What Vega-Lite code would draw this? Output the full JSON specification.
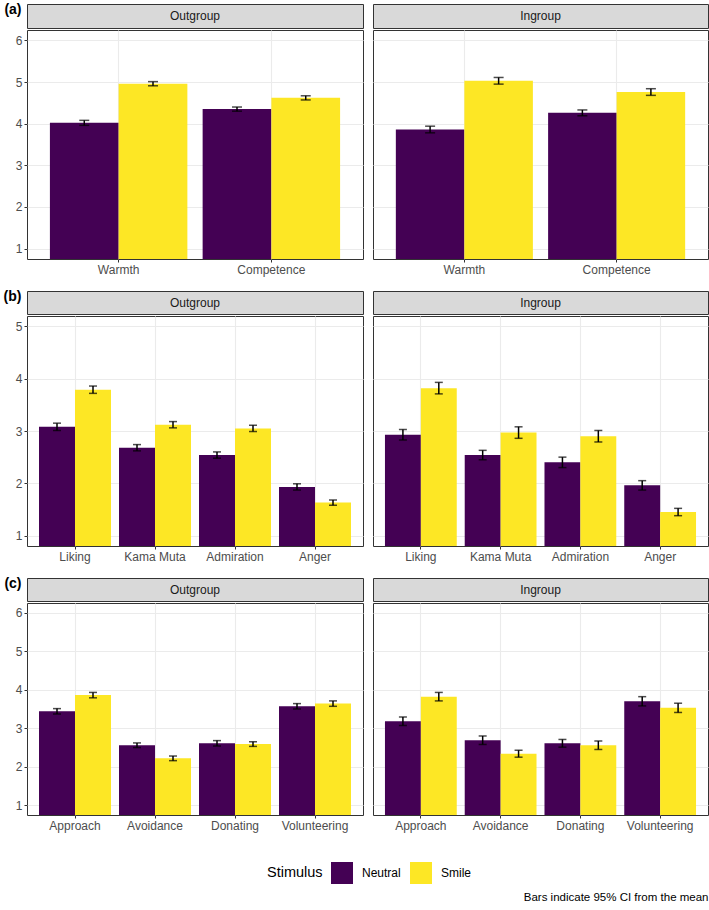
{
"$schema": "https://vega.github.io/schema/vega-lite/v6.json",
"padding": {"left": 0, "top": 1, "right": 4, "bottom": 4},
"background": "white",
"title": {"text": "Bars indicate 95% CI from the mean", "orient": "bottom", "anchor": "end", "fontSize": 11.5, "fontWeight": "normal", "color": "black", "offset": 8},
"datasets": {
"d": [
{"panel":"a","group":"Outgroup","measure":"Warmth","stimulus":"Neutral","mean":4.02,"lo":3.96,"hi":4.08},
{"panel":"a","group":"Outgroup","measure":"Warmth","stimulus":"Smile","mean":4.96,"lo":4.91,"hi":5.01},
{"panel":"a","group":"Outgroup","measure":"Competence","stimulus":"Neutral","mean":4.35,"lo":4.30,"hi":4.40},
{"panel":"a","group":"Outgroup","measure":"Competence","stimulus":"Smile","mean":4.62,"lo":4.57,"hi":4.67},
{"panel":"a","group":"Ingroup","measure":"Warmth","stimulus":"Neutral","mean":3.86,"lo":3.78,"hi":3.94},
{"panel":"a","group":"Ingroup","measure":"Warmth","stimulus":"Smile","mean":5.03,"lo":4.95,"hi":5.11},
{"panel":"a","group":"Ingroup","measure":"Competence","stimulus":"Neutral","mean":4.26,"lo":4.19,"hi":4.33},
{"panel":"a","group":"Ingroup","measure":"Competence","stimulus":"Smile","mean":4.76,"lo":4.68,"hi":4.84},
{"panel":"b","group":"Outgroup","measure":"Liking","stimulus":"Neutral","mean":3.08,"lo":3.01,"hi":3.15},
{"panel":"b","group":"Outgroup","measure":"Liking","stimulus":"Smile","mean":3.79,"lo":3.72,"hi":3.86},
{"panel":"b","group":"Outgroup","measure":"Kama Muta","stimulus":"Neutral","mean":2.68,"lo":2.62,"hi":2.74},
{"panel":"b","group":"Outgroup","measure":"Kama Muta","stimulus":"Smile","mean":3.12,"lo":3.06,"hi":3.18},
{"panel":"b","group":"Outgroup","measure":"Admiration","stimulus":"Neutral","mean":2.54,"lo":2.48,"hi":2.60},
{"panel":"b","group":"Outgroup","measure":"Admiration","stimulus":"Smile","mean":3.05,"lo":2.99,"hi":3.11},
{"panel":"b","group":"Outgroup","measure":"Anger","stimulus":"Neutral","mean":1.93,"lo":1.87,"hi":1.99},
{"panel":"b","group":"Outgroup","measure":"Anger","stimulus":"Smile","mean":1.63,"lo":1.58,"hi":1.68},
{"panel":"b","group":"Ingroup","measure":"Liking","stimulus":"Neutral","mean":2.93,"lo":2.83,"hi":3.03},
{"panel":"b","group":"Ingroup","measure":"Liking","stimulus":"Smile","mean":3.82,"lo":3.71,"hi":3.93},
{"panel":"b","group":"Ingroup","measure":"Kama Muta","stimulus":"Neutral","mean":2.54,"lo":2.45,"hi":2.63},
{"panel":"b","group":"Ingroup","measure":"Kama Muta","stimulus":"Smile","mean":2.97,"lo":2.86,"hi":3.08},
{"panel":"b","group":"Ingroup","measure":"Admiration","stimulus":"Neutral","mean":2.40,"lo":2.30,"hi":2.50},
{"panel":"b","group":"Ingroup","measure":"Admiration","stimulus":"Smile","mean":2.90,"lo":2.79,"hi":3.01},
{"panel":"b","group":"Ingroup","measure":"Anger","stimulus":"Neutral","mean":1.96,"lo":1.87,"hi":2.05},
{"panel":"b","group":"Ingroup","measure":"Anger","stimulus":"Smile","mean":1.45,"lo":1.38,"hi":1.52},
{"panel":"c","group":"Outgroup","measure":"Approach","stimulus":"Neutral","mean":3.44,"lo":3.37,"hi":3.51},
{"panel":"c","group":"Outgroup","measure":"Approach","stimulus":"Smile","mean":3.86,"lo":3.79,"hi":3.93},
{"panel":"c","group":"Outgroup","measure":"Avoidance","stimulus":"Neutral","mean":2.56,"lo":2.50,"hi":2.62},
{"panel":"c","group":"Outgroup","measure":"Avoidance","stimulus":"Smile","mean":2.22,"lo":2.16,"hi":2.28},
{"panel":"c","group":"Outgroup","measure":"Donating","stimulus":"Neutral","mean":2.61,"lo":2.54,"hi":2.68},
{"panel":"c","group":"Outgroup","measure":"Donating","stimulus":"Smile","mean":2.59,"lo":2.53,"hi":2.65},
{"panel":"c","group":"Outgroup","measure":"Volunteering","stimulus":"Neutral","mean":3.57,"lo":3.50,"hi":3.64},
{"panel":"c","group":"Outgroup","measure":"Volunteering","stimulus":"Smile","mean":3.64,"lo":3.57,"hi":3.71},
{"panel":"c","group":"Ingroup","measure":"Approach","stimulus":"Neutral","mean":3.18,"lo":3.07,"hi":3.29},
{"panel":"c","group":"Ingroup","measure":"Approach","stimulus":"Smile","mean":3.82,"lo":3.71,"hi":3.93},
{"panel":"c","group":"Ingroup","measure":"Avoidance","stimulus":"Neutral","mean":2.69,"lo":2.58,"hi":2.80},
{"panel":"c","group":"Ingroup","measure":"Avoidance","stimulus":"Smile","mean":2.34,"lo":2.25,"hi":2.43},
{"panel":"c","group":"Ingroup","measure":"Donating","stimulus":"Neutral","mean":2.61,"lo":2.51,"hi":2.71},
{"panel":"c","group":"Ingroup","measure":"Donating","stimulus":"Smile","mean":2.56,"lo":2.45,"hi":2.67},
{"panel":"c","group":"Ingroup","measure":"Volunteering","stimulus":"Neutral","mean":3.70,"lo":3.58,"hi":3.82},
{"panel":"c","group":"Ingroup","measure":"Volunteering","stimulus":"Smile","mean":3.53,"lo":3.41,"hi":3.65}
],
"s": [
{"panel":"a","group":"Outgroup","tag":"(a)"},
{"panel":"a","group":"Ingroup","tag":"(a)"},
{"panel":"b","group":"Outgroup","tag":"(b)"},
{"panel":"b","group":"Ingroup","tag":"(b)"},
{"panel":"c","group":"Outgroup","tag":"(c)"},
{"panel":"c","group":"Ingroup","tag":"(c)"}
]
},
"vconcat": [
{"hconcat": [
 {"vconcat": [
  {"width": 336, "height": 24, "view": {"fill": "#D9D9D9", "stroke": "#333333"},
   "data": {"name": "s"}, "transform": [{"filter": "datum.panel === 'a' && datum.group === 'Outgroup'"}],
   "mark": {"type": "text", "fontSize": 12, "color": "#1A1A1A"},
   "encoding": {"x": {"field": "group", "type": "nominal", "axis": null},
     "y": {"field": "tag", "type": "nominal", "axis": {"title": null, "ticks": false, "domain": false, "grid": false, "labelFontSize": 14, "labelFontWeight": "bold", "labelColor": "black", "labelPadding": 6, "labelOffset": -7, "minExtent": 26, "maxExtent": 26}},
     "text": {"field": "group"}}},
  {"width": 336, "height": 229, "view": {"stroke": "#333333"},
   "data": {"name": "d"}, "transform": [{"filter": "datum.panel === 'a' && datum.group === 'Outgroup'"}],
   "encoding": {"x": {"field": "measure", "type": "nominal", "sort": ["Warmth","Competence","Liking","Kama Muta","Admiration","Anger","Approach","Avoidance","Donating","Volunteering"], "scale": {"paddingInner": 0.1, "paddingOuter": 0.15}, "axis": {"title": null, "grid": true}},
     "xOffset": {"field": "stimulus", "type": "nominal", "sort": ["Neutral","Smile"], "scale": {"paddingInner": 0, "paddingOuter": 0}}},
   "layer": [
    {"mark": {"type": "bar", "clip": true},
     "encoding": {"y": {"field": "mean", "type": "quantitative", "scale": {"domain": [0.75, 6.25], "nice": false, "zero": false}, "axis": {"title": null, "values": [1,1.5,2,2.5,3,3.5,4,4.5,5,5.5,6], "labelExpr": "datum.value % 1 === 0 ? datum.label : ''", "tickOpacity": {"condition": {"test": "datum.value % 1 !== 0", "value": 0}, "value": 1}, "gridWidth": {"condition": {"test": "datum.value % 1 !== 0", "value": 0.5}, "value": 1.1}, "minExtent": 26, "maxExtent": 26}},
       "color": {"field": "stimulus", "type": "nominal", "scale": {"domain": ["Neutral","Smile"], "range": ["#440154","#FDE725"]}, "legend": {"title": "Stimulus", "orient": "none", "legendX": 240, "legendY": 858, "direction": "horizontal", "titleOrient": "left", "titleFontSize": 14.5, "titleFontWeight": "normal", "titleColor": "black", "labelFontSize": 12, "labelColor": "black", "symbolType": "square", "symbolSize": 484, "symbolStrokeWidth": 0, "symbolOpacity": 1, "labelOffset": 9, "columnPadding": 9, "titlePadding": 8}}}},
    {"mark": {"type": "rule", "color": "black", "strokeWidth": 1.5}, "encoding": {"y": {"field": "lo", "type": "quantitative", "title": null}, "y2": {"field": "hi"}}},
    {"mark": {"type": "tick", "color": "black", "thickness": 1.5, "size": 10}, "encoding": {"y": {"field": "lo", "type": "quantitative", "title": null}}},
    {"mark": {"type": "tick", "color": "black", "thickness": 1.5, "size": 10}, "encoding": {"y": {"field": "hi", "type": "quantitative", "title": null}}}
   ]}
 ], "spacing": 0, "resolve": {"scale": {"x": "independent", "xOffset": "independent", "y": "independent"}}},
 {"vconcat": [
  {"width": 335, "height": 24, "view": {"fill": "#D9D9D9", "stroke": "#333333"},
   "data": {"name": "s"}, "transform": [{"filter": "datum.panel === 'a' && datum.group === 'Ingroup'"}],
   "mark": {"type": "text", "fontSize": 12, "color": "#1A1A1A"},
   "encoding": {"x": {"field": "group", "type": "nominal", "axis": null},
     "y": {"field": "tag", "type": "nominal", "axis": null},
     "text": {"field": "group"}}},
  {"width": 335, "height": 229, "view": {"stroke": "#333333"},
   "data": {"name": "d"}, "transform": [{"filter": "datum.panel === 'a' && datum.group === 'Ingroup'"}],
   "encoding": {"x": {"field": "measure", "type": "nominal", "sort": ["Warmth","Competence","Liking","Kama Muta","Admiration","Anger","Approach","Avoidance","Donating","Volunteering"], "scale": {"paddingInner": 0.1, "paddingOuter": 0.15}, "axis": {"title": null, "grid": true}},
     "xOffset": {"field": "stimulus", "type": "nominal", "sort": ["Neutral","Smile"], "scale": {"paddingInner": 0, "paddingOuter": 0}}},
   "layer": [
    {"mark": {"type": "bar", "clip": true},
     "encoding": {"y": {"field": "mean", "type": "quantitative", "scale": {"domain": [0.75, 6.25], "nice": false, "zero": false}, "axis": {"title": null, "values": [1,1.5,2,2.5,3,3.5,4,4.5,5,5.5,6], "labels": false, "ticks": false, "gridWidth": {"condition": {"test": "datum.value % 1 !== 0", "value": 0.5}, "value": 1.1}}},
       "color": {"field": "stimulus", "type": "nominal", "scale": {"domain": ["Neutral","Smile"], "range": ["#440154","#FDE725"]}, "legend": {"title": "Stimulus", "orient": "none", "legendX": 240, "legendY": 858, "direction": "horizontal", "titleOrient": "left", "titleFontSize": 14.5, "titleFontWeight": "normal", "titleColor": "black", "labelFontSize": 12, "labelColor": "black", "symbolType": "square", "symbolSize": 484, "symbolStrokeWidth": 0, "symbolOpacity": 1, "labelOffset": 9, "columnPadding": 9, "titlePadding": 8}}}},
    {"mark": {"type": "rule", "color": "black", "strokeWidth": 1.5}, "encoding": {"y": {"field": "lo", "type": "quantitative", "title": null}, "y2": {"field": "hi"}}},
    {"mark": {"type": "tick", "color": "black", "thickness": 1.5, "size": 10}, "encoding": {"y": {"field": "lo", "type": "quantitative", "title": null}}},
    {"mark": {"type": "tick", "color": "black", "thickness": 1.5, "size": 10}, "encoding": {"y": {"field": "hi", "type": "quantitative", "title": null}}}
   ]}
 ], "spacing": 0, "resolve": {"scale": {"x": "independent", "xOffset": "independent", "y": "independent"}}}
], "spacing": 8, "resolve": {"scale": {"x": "independent", "xOffset": "independent", "y": "independent"}}},
{"hconcat": [
 {"vconcat": [
  {"width": 336, "height": 23, "view": {"fill": "#D9D9D9", "stroke": "#333333"},
   "data": {"name": "s"}, "transform": [{"filter": "datum.panel === 'b' && datum.group === 'Outgroup'"}],
   "mark": {"type": "text", "fontSize": 12, "color": "#1A1A1A"},
   "encoding": {"x": {"field": "group", "type": "nominal", "axis": null},
     "y": {"field": "tag", "type": "nominal", "axis": {"title": null, "ticks": false, "domain": false, "grid": false, "labelFontSize": 14, "labelFontWeight": "bold", "labelColor": "black", "labelPadding": 6, "labelOffset": -6, "minExtent": 26, "maxExtent": 26}},
     "text": {"field": "group"}}},
  {"width": 336, "height": 230, "view": {"stroke": "#333333"},
   "data": {"name": "d"}, "transform": [{"filter": "datum.panel === 'b' && datum.group === 'Outgroup'"}],
   "encoding": {"x": {"field": "measure", "type": "nominal", "sort": ["Warmth","Competence","Liking","Kama Muta","Admiration","Anger","Approach","Avoidance","Donating","Volunteering"], "scale": {"paddingInner": 0.1, "paddingOuter": 0.15}, "axis": {"title": null, "grid": true}},
     "xOffset": {"field": "stimulus", "type": "nominal", "sort": ["Neutral","Smile"], "scale": {"paddingInner": 0, "paddingOuter": 0}}},
   "layer": [
    {"mark": {"type": "bar", "clip": true},
     "encoding": {"y": {"field": "mean", "type": "quantitative", "scale": {"domain": [0.8, 5.2], "nice": false, "zero": false}, "axis": {"title": null, "values": [1,1.5,2,2.5,3,3.5,4,4.5,5], "labelExpr": "datum.value % 1 === 0 ? datum.label : ''", "tickOpacity": {"condition": {"test": "datum.value % 1 !== 0", "value": 0}, "value": 1}, "gridWidth": {"condition": {"test": "datum.value % 1 !== 0", "value": 0.5}, "value": 1.1}, "minExtent": 26, "maxExtent": 26}},
       "color": {"field": "stimulus", "type": "nominal", "scale": {"domain": ["Neutral","Smile"], "range": ["#440154","#FDE725"]}, "legend": {"title": "Stimulus", "orient": "none", "legendX": 240, "legendY": 858, "direction": "horizontal", "titleOrient": "left", "titleFontSize": 14.5, "titleFontWeight": "normal", "titleColor": "black", "labelFontSize": 12, "labelColor": "black", "symbolType": "square", "symbolSize": 484, "symbolStrokeWidth": 0, "symbolOpacity": 1, "labelOffset": 9, "columnPadding": 9, "titlePadding": 8}}}},
    {"mark": {"type": "rule", "color": "black", "strokeWidth": 1.5}, "encoding": {"y": {"field": "lo", "type": "quantitative", "title": null}, "y2": {"field": "hi"}}},
    {"mark": {"type": "tick", "color": "black", "thickness": 1.5, "size": 8}, "encoding": {"y": {"field": "lo", "type": "quantitative", "title": null}}},
    {"mark": {"type": "tick", "color": "black", "thickness": 1.5, "size": 8}, "encoding": {"y": {"field": "hi", "type": "quantitative", "title": null}}}
   ]}
 ], "spacing": 0, "resolve": {"scale": {"x": "independent", "xOffset": "independent", "y": "independent"}}},
 {"vconcat": [
  {"width": 335, "height": 23, "view": {"fill": "#D9D9D9", "stroke": "#333333"},
   "data": {"name": "s"}, "transform": [{"filter": "datum.panel === 'b' && datum.group === 'Ingroup'"}],
   "mark": {"type": "text", "fontSize": 12, "color": "#1A1A1A"},
   "encoding": {"x": {"field": "group", "type": "nominal", "axis": null},
     "y": {"field": "tag", "type": "nominal", "axis": null},
     "text": {"field": "group"}}},
  {"width": 335, "height": 230, "view": {"stroke": "#333333"},
   "data": {"name": "d"}, "transform": [{"filter": "datum.panel === 'b' && datum.group === 'Ingroup'"}],
   "encoding": {"x": {"field": "measure", "type": "nominal", "sort": ["Warmth","Competence","Liking","Kama Muta","Admiration","Anger","Approach","Avoidance","Donating","Volunteering"], "scale": {"paddingInner": 0.1, "paddingOuter": 0.15}, "axis": {"title": null, "grid": true}},
     "xOffset": {"field": "stimulus", "type": "nominal", "sort": ["Neutral","Smile"], "scale": {"paddingInner": 0, "paddingOuter": 0}}},
   "layer": [
    {"mark": {"type": "bar", "clip": true},
     "encoding": {"y": {"field": "mean", "type": "quantitative", "scale": {"domain": [0.8, 5.2], "nice": false, "zero": false}, "axis": {"title": null, "values": [1,1.5,2,2.5,3,3.5,4,4.5,5], "labels": false, "ticks": false, "gridWidth": {"condition": {"test": "datum.value % 1 !== 0", "value": 0.5}, "value": 1.1}}},
       "color": {"field": "stimulus", "type": "nominal", "scale": {"domain": ["Neutral","Smile"], "range": ["#440154","#FDE725"]}, "legend": {"title": "Stimulus", "orient": "none", "legendX": 240, "legendY": 858, "direction": "horizontal", "titleOrient": "left", "titleFontSize": 14.5, "titleFontWeight": "normal", "titleColor": "black", "labelFontSize": 12, "labelColor": "black", "symbolType": "square", "symbolSize": 484, "symbolStrokeWidth": 0, "symbolOpacity": 1, "labelOffset": 9, "columnPadding": 9, "titlePadding": 8}}}},
    {"mark": {"type": "rule", "color": "black", "strokeWidth": 1.5}, "encoding": {"y": {"field": "lo", "type": "quantitative", "title": null}, "y2": {"field": "hi"}}},
    {"mark": {"type": "tick", "color": "black", "thickness": 1.5, "size": 8}, "encoding": {"y": {"field": "lo", "type": "quantitative", "title": null}}},
    {"mark": {"type": "tick", "color": "black", "thickness": 1.5, "size": 8}, "encoding": {"y": {"field": "hi", "type": "quantitative", "title": null}}}
   ]}
 ], "spacing": 0, "resolve": {"scale": {"x": "independent", "xOffset": "independent", "y": "independent"}}}
], "spacing": 8, "resolve": {"scale": {"x": "independent", "xOffset": "independent", "y": "independent"}}},
{"hconcat": [
 {"vconcat": [
  {"width": 336, "height": 23, "view": {"fill": "#D9D9D9", "stroke": "#333333"},
   "data": {"name": "s"}, "transform": [{"filter": "datum.panel === 'c' && datum.group === 'Outgroup'"}],
   "mark": {"type": "text", "fontSize": 12, "color": "#1A1A1A"},
   "encoding": {"x": {"field": "group", "type": "nominal", "axis": null},
     "y": {"field": "tag", "type": "nominal", "axis": {"title": null, "ticks": false, "domain": false, "grid": false, "labelFontSize": 14, "labelFontWeight": "bold", "labelColor": "black", "labelPadding": 6, "labelOffset": -6, "minExtent": 26, "maxExtent": 26}},
     "text": {"field": "group"}}},
  {"width": 336, "height": 212, "view": {"stroke": "#333333"},
   "data": {"name": "d"}, "transform": [{"filter": "datum.panel === 'c' && datum.group === 'Outgroup'"}],
   "encoding": {"x": {"field": "measure", "type": "nominal", "sort": ["Warmth","Competence","Liking","Kama Muta","Admiration","Anger","Approach","Avoidance","Donating","Volunteering"], "scale": {"paddingInner": 0.1, "paddingOuter": 0.15}, "axis": {"title": null, "grid": true}},
     "xOffset": {"field": "stimulus", "type": "nominal", "sort": ["Neutral","Smile"], "scale": {"paddingInner": 0, "paddingOuter": 0}}},
   "layer": [
    {"mark": {"type": "bar", "clip": true},
     "encoding": {"y": {"field": "mean", "type": "quantitative", "scale": {"domain": [0.75, 6.25], "nice": false, "zero": false}, "axis": {"title": null, "values": [1,1.5,2,2.5,3,3.5,4,4.5,5,5.5,6], "labelExpr": "datum.value % 1 === 0 ? datum.label : ''", "tickOpacity": {"condition": {"test": "datum.value % 1 !== 0", "value": 0}, "value": 1}, "gridWidth": {"condition": {"test": "datum.value % 1 !== 0", "value": 0.5}, "value": 1.1}, "minExtent": 26, "maxExtent": 26}},
       "color": {"field": "stimulus", "type": "nominal", "scale": {"domain": ["Neutral","Smile"], "range": ["#440154","#FDE725"]}, "legend": {"title": "Stimulus", "orient": "none", "legendX": 240, "legendY": 858, "direction": "horizontal", "titleOrient": "left", "titleFontSize": 14.5, "titleFontWeight": "normal", "titleColor": "black", "labelFontSize": 12, "labelColor": "black", "symbolType": "square", "symbolSize": 484, "symbolStrokeWidth": 0, "symbolOpacity": 1, "labelOffset": 9, "columnPadding": 9, "titlePadding": 8}}}},
    {"mark": {"type": "rule", "color": "black", "strokeWidth": 1.5}, "encoding": {"y": {"field": "lo", "type": "quantitative", "title": null}, "y2": {"field": "hi"}}},
    {"mark": {"type": "tick", "color": "black", "thickness": 1.5, "size": 8}, "encoding": {"y": {"field": "lo", "type": "quantitative", "title": null}}},
    {"mark": {"type": "tick", "color": "black", "thickness": 1.5, "size": 8}, "encoding": {"y": {"field": "hi", "type": "quantitative", "title": null}}}
   ]}
 ], "spacing": 0, "resolve": {"scale": {"x": "independent", "xOffset": "independent", "y": "independent"}}},
 {"vconcat": [
  {"width": 335, "height": 23, "view": {"fill": "#D9D9D9", "stroke": "#333333"},
   "data": {"name": "s"}, "transform": [{"filter": "datum.panel === 'c' && datum.group === 'Ingroup'"}],
   "mark": {"type": "text", "fontSize": 12, "color": "#1A1A1A"},
   "encoding": {"x": {"field": "group", "type": "nominal", "axis": null},
     "y": {"field": "tag", "type": "nominal", "axis": null},
     "text": {"field": "group"}}},
  {"width": 335, "height": 212, "view": {"stroke": "#333333"},
   "data": {"name": "d"}, "transform": [{"filter": "datum.panel === 'c' && datum.group === 'Ingroup'"}],
   "encoding": {"x": {"field": "measure", "type": "nominal", "sort": ["Warmth","Competence","Liking","Kama Muta","Admiration","Anger","Approach","Avoidance","Donating","Volunteering"], "scale": {"paddingInner": 0.1, "paddingOuter": 0.15}, "axis": {"title": null, "grid": true}},
     "xOffset": {"field": "stimulus", "type": "nominal", "sort": ["Neutral","Smile"], "scale": {"paddingInner": 0, "paddingOuter": 0}}},
   "layer": [
    {"mark": {"type": "bar", "clip": true},
     "encoding": {"y": {"field": "mean", "type": "quantitative", "scale": {"domain": [0.75, 6.25], "nice": false, "zero": false}, "axis": {"title": null, "values": [1,1.5,2,2.5,3,3.5,4,4.5,5,5.5,6], "labels": false, "ticks": false, "gridWidth": {"condition": {"test": "datum.value % 1 !== 0", "value": 0.5}, "value": 1.1}}},
       "color": {"field": "stimulus", "type": "nominal", "scale": {"domain": ["Neutral","Smile"], "range": ["#440154","#FDE725"]}, "legend": {"title": "Stimulus", "orient": "none", "legendX": 240, "legendY": 858, "direction": "horizontal", "titleOrient": "left", "titleFontSize": 14.5, "titleFontWeight": "normal", "titleColor": "black", "labelFontSize": 12, "labelColor": "black", "symbolType": "square", "symbolSize": 484, "symbolStrokeWidth": 0, "symbolOpacity": 1, "labelOffset": 9, "columnPadding": 9, "titlePadding": 8}}}},
    {"mark": {"type": "rule", "color": "black", "strokeWidth": 1.5}, "encoding": {"y": {"field": "lo", "type": "quantitative", "title": null}, "y2": {"field": "hi"}}},
    {"mark": {"type": "tick", "color": "black", "thickness": 1.5, "size": 8}, "encoding": {"y": {"field": "lo", "type": "quantitative", "title": null}}},
    {"mark": {"type": "tick", "color": "black", "thickness": 1.5, "size": 8}, "encoding": {"y": {"field": "hi", "type": "quantitative", "title": null}}}
   ]}
 ], "spacing": 0, "resolve": {"scale": {"x": "independent", "xOffset": "independent", "y": "independent"}}}
], "spacing": 8, "resolve": {"scale": {"x": "independent", "xOffset": "independent", "y": "independent"}}}
],
"spacing": 13,
"resolve": {"scale": {"x": "independent", "xOffset": "independent", "y": "independent"}},
"config": {
 "font": "Liberation Sans",
 "view": {"stroke": "#333333"},
 "axis": {"gridColor": "#EBEBEB", "labelColor": "#4D4D4D", "labelFontSize": 12, "tickColor": "#333333", "tickSize": 3, "labelPadding": 2, "domain": false},
 "axisX": {"labelAngle": 0, "bandPosition": 0.5, "gridWidth": 1.1}
}
}
